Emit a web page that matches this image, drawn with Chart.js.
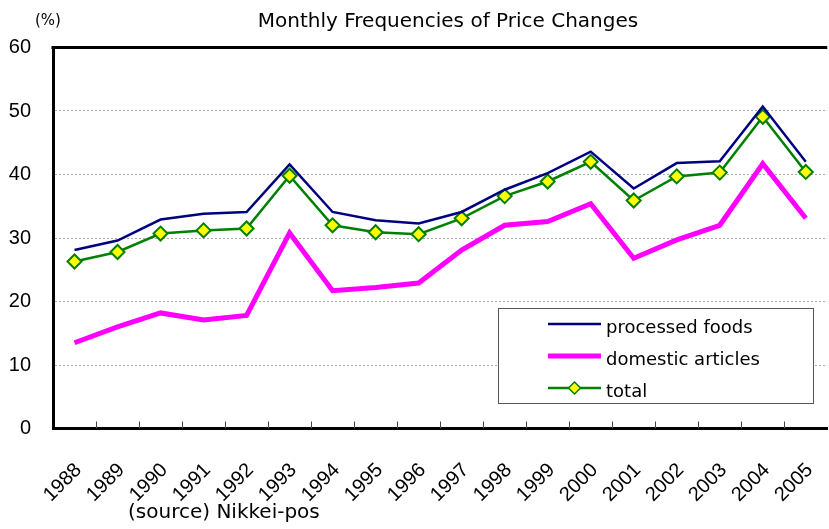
<!DOCTYPE html>
<html>
<head>
<meta charset="utf-8">
<script src="https://cdn.jsdelivr.net/npm/chart.js@4.4.1/dist/chart.umd.min.js"></script>
<style>
  html, body { margin: 0; padding: 0; background: #fff; overflow: hidden; }
  #wrap { width: 845px; height: 529px; }
</style>
</head>
<body>
<div id="wrap"><canvas id="freqChart" width="845" height="529"></canvas></div>
<script>
const years = ['1988','1989','1990','1991','1992','1993','1994','1995','1996','1997','1998','1999','2000','2001','2002','2003','2004','2005'];
const processedFoods = [28.1, 29.6, 32.9, 33.8, 34.1, 41.6, 34.1, 32.8, 32.3, 34.1, 37.6, 40.2, 43.6, 37.8, 41.8, 42.1, 50.7, 42.0];
const domesticArticles = [13.5, 16.0, 18.2, 17.1, 17.8, 30.8, 21.7, 22.2, 22.9, 28.1, 32.0, 32.6, 35.4, 26.8, 29.7, 32.0, 41.7, 33.1];
const total = [26.3, 27.8, 30.7, 31.2, 31.5, 39.8, 32.0, 30.9, 30.6, 33.1, 36.6, 38.9, 42.0, 35.9, 39.7, 40.3, 49.1, 40.4];
const yTicks = [0, 10, 20, 30, 40, 50, 60];

const titleText = 'Monthly Frequencies of Price Changes';
const unitText = '(%)';
const sourceText = '(source) Nikkei-pos';

// titles, frame, inner tick marks and the boxed legend
const extras = {
    id: 'extras',
    afterDraw(chart) {
        const c = chart.ctx;
        const area = chart.chartArea;
        const x = chart.scales.x;
        const y = chart.scales.y;
        c.save();
        c.fillStyle = '#000';
        c.textBaseline = 'middle';
        c.font = '20px "DejaVu Sans", sans-serif';
        c.textAlign = 'center';
        c.fillText(titleText, 448, 22);
        c.font = '15px "DejaVu Sans", sans-serif';
        c.textAlign = 'left';
        c.fillText(unitText, 35, 21);
        c.font = '20px "DejaVu Sans", sans-serif';
        c.fillText(sourceText, 128, 513);

        // top frame line
        c.strokeStyle = '#000';
        c.lineWidth = 3;
        c.beginPath();
        c.moveTo(area.left - 1.5, y.getPixelForValue(60));
        c.lineTo(area.right, y.getPixelForValue(60));
        c.stroke();

        // inner ticks on the category axis
        c.lineWidth = 1;
        c.strokeStyle = '#444';
        const half = (x.getPixelForValue(1) - x.getPixelForValue(0)) / 2;
        for (let i = 1; i < years.length; i++) {
            const px = Math.round(x.getPixelForValue(i) - half) + 0.5;
            c.beginPath();
            c.moveTo(px, area.bottom);
            c.lineTo(px, area.bottom - 7);
            c.stroke();
        }

        // legend box
        const bx = 498, by = 308, bw = 315, bh = 95;
        c.fillStyle = '#fff';
        c.fillRect(bx, by, bw, bh);
        c.strokeStyle = '#555';
        c.lineWidth = 1;
        c.strokeRect(bx + 0.5, by + 0.5, bw, bh);
        const rows = [324, 356, 388];
        chart.data.datasets.forEach((ds, i) => {
            const ly = rows[i];
            c.strokeStyle = ds.borderColor;
            c.lineWidth = ds.borderWidth;
            c.beginPath();
            c.moveTo(548, ly);
            c.lineTo(601, ly);
            c.stroke();
            if (ds.pointRadius > 0) {
                c.fillStyle = ds.pointBackgroundColor;
                c.strokeStyle = ds.pointBorderColor;
                c.lineWidth = 1.5;
                c.beginPath();
                c.moveTo(574.5, ly - 6);
                c.lineTo(580.5, ly);
                c.lineTo(574.5, ly + 6);
                c.lineTo(568.5, ly);
                c.closePath();
                c.fill();
                c.stroke();
            }
            c.fillStyle = '#000';
            c.font = '18px "DejaVu Sans", sans-serif';
            c.textAlign = 'left';
            c.fillText(ds.label, 606, ly + 4);
        });
        c.restore();
    }
};

const ctx = document.getElementById('freqChart').getContext('2d');
const freqChart = new Chart(ctx, {
    type: 'line',
    data: {
        labels: years,
        datasets: [{
            label: 'processed foods',
            data: processedFoods,
            borderColor: '#000080',
            borderWidth: 2.5,
            pointRadius: 0,
            tension: 0
        }, {
            label: 'domestic articles',
            data: domesticArticles,
            borderColor: '#FF00FF',
            borderWidth: 5,
            pointRadius: 0,
            tension: 0
        }, {
            label: 'total',
            data: total,
            borderColor: '#008000',
            borderWidth: 2.5,
            pointStyle: 'rectRot',
            pointRadius: 7,
            pointBackgroundColor: '#FFFF00',
            pointBorderColor: '#008000',
            pointBorderWidth: 2,
            tension: 0
        }]
    },
    options: {
        responsive: false,
        animation: false,
        devicePixelRatio: 1,
        layout: { padding: { top: 47.5, right: 8, left: 0, bottom: 0 } },
        plugins: {
            legend: { display: false },
            title: { display: false },
            tooltip: { enabled: false }
        },
        scales: {
            x: {
                type: 'category',
                offset: true,
                afterFit(scale) { scale.height = 100.5; },
                grid: { display: false },
                border: { display: true, color: '#000', width: 3 },
                ticks: {
                    autoSkip: false,
                    minRotation: 45,
                    maxRotation: 45,
                    padding: 22,
                    labelOffset: 4,
                    color: '#000',
                    font: { family: '"Liberation Sans", Arial, sans-serif', size: 20 }
                }
            },
            y: {
                min: 0,
                max: 60,
                afterFit(scale) { scale.width = 53; },
                afterBuildTicks(scale) { scale.ticks = yTicks.map(v => ({ value: v })); },
                grid: {
                    drawTicks: false,
                    color: c => (c.tick && (c.tick.value === 0 || c.tick.value === 60)) ? 'rgba(0,0,0,0)' : '#A8A8A8',
                    lineWidth: 1
                },
                border: { display: true, color: '#000', width: 3, dash: [2, 2] },
                ticks: {
                    padding: 22,
                    color: '#000',
                    font: { family: '"Liberation Sans", Arial, sans-serif', size: 20 }
                }
            }
        }
    },
    plugins: [extras]
});
</script>
</body>
</html>
